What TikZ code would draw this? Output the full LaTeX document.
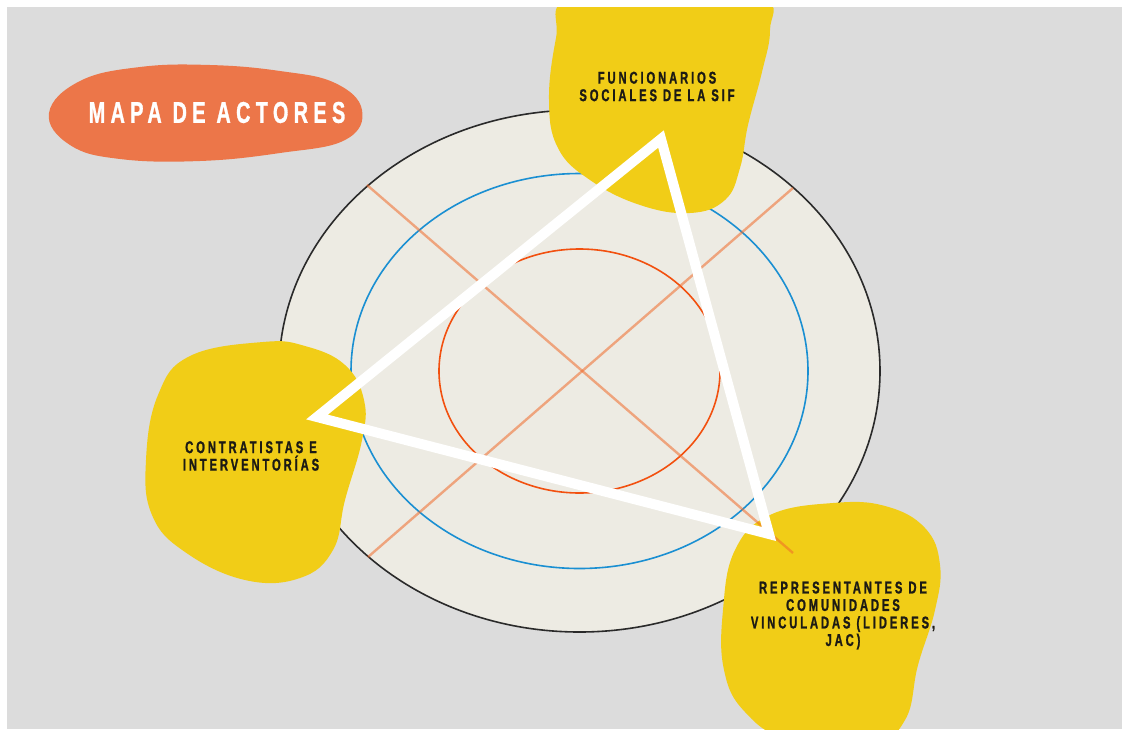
\documentclass[tikz,border=0pt]{standalone}
\usepackage{fontspec}
\newfontfamily\labelfont{Liberation Sans}[FakeStretch=0.66,LetterSpace=17,FakeBold=1.2]
\newfontfamily\headfont{Liberation Sans}[FakeStretch=0.66,LetterSpace=18,FakeBold=1.0]
\definecolor{bggrey}{HTML}{DCDCDC}
\definecolor{plate}{HTML}{EDEBE3}
\definecolor{rimblack}{HTML}{2A2A2A}
\definecolor{ringblue}{HTML}{1A8FD2}
\definecolor{ringred}{HTML}{F2500F}
\definecolor{crossline}{HTML}{F06A2A}
\definecolor{blobyellow}{HTML}{F1CD17}
\definecolor{titleorange}{HTML}{EC7649}
\definecolor{inkdark}{HTML}{1C1A14}
\tikzset{
  blob/.style={fill=blobyellow, draw=none},
  ring/.style={line width=1.6pt},
  crossbar/.style={draw=crossline, line width=2.4pt, opacity=0.55},
  actorlabel/.style={font=\labelfont\bfseries\fontsize{17}{17.5}\selectfont,
    text=inkdark, align=center, inner sep=0pt},
  titlelabel/.style={font=\headfont\bfseries\fontsize{30}{30}\selectfont,
    text=white, inner sep=0pt},
}
\begin{document}
\begin{tikzpicture}[x=1pt,y=-1pt]
  % canvas and grey panel
  \fill[white] (0,0) rectangle (1122,729);
  \useasboundingbox (0,0) rectangle (1122,729);
  \fill[bggrey] (7,7) rectangle (1122,729);

  % concentric plate
  \coordinate (centre) at (579.5,371);
  \fill[plate] (centre) ellipse [x radius=300.5, y radius=261];
  \draw[ring, rimblack] (centre) ellipse [x radius=300.5, y radius=261];
  \draw[ring, ringblue] (centre) ellipse [x radius=228.5, y radius=197.5];
  \draw[ring, ringred] (centre) ellipse [x radius=140.5, y radius=122];

  % yellow actor blobs
  \begin{scope}
    \clip (7,7) rectangle (1122,729);
    \fill[blob] plot[smooth cycle, tension=0.7] coordinates {
      (568,-2) (556,38) (549,100) (558,148) (590,180) (640,205)
      (690,213) (725,200) (740,168) (748,125) (762,72) (770,30)
      (762,-2) (665,-14)};
    \fill[blob] plot[smooth cycle, tension=0.7] coordinates {
      (263,342) (190,356) (158,395) (146,460) (152,515) (185,552)
      (245,580) (300,578) (333,550) (345,500) (362,440) (364,400)
      (345,365) (305,346)};
    \fill[blob] plot[smooth cycle, tension=0.7] coordinates {
      (833,503) (770,515) (735,550) (723,610) (724,670) (745,712)
      (790,740) (870,745) (905,720) (918,665) (935,610) (940,565)
      (925,528) (885,506)};
  \end{scope}

  % diagonal cross
  \coordinate (nw) at (367,185);
  \coordinate (se) at (793,553);
  \coordinate (ne) at (793,188);
  \coordinate (sw) at (368,557);
  \draw[crossbar] (nw) -- (se);
  \draw[crossbar] (ne) -- (sw);

  % white triangle linking the actors
  \coordinate (apex) at (661,139);
  \coordinate (westv) at (317,417);
  \coordinate (eastv) at (769,534);
  \draw[white, line width=10pt, line join=miter, miter limit=10]
    (apex) -- (westv) -- (eastv) -- cycle;

  % title badge
  \fill[titleorange] plot[smooth cycle, tension=0.7] coordinates {
    (49,113) (80,81) (140,67) (210,65) (280,71) (335,83)
    (362,110) (345,140) (280,153) (200,161) (120,159)
    (70,145)};
  \node[titlelabel] (title) at (217,112.5) {MAPA DE ACTORES};

  % actor labels
  \node[actorlabel] (sif) at (657,86.5) {FUNCIONARIOS\\SOCIALES DE LA SIF};
  \node[actorlabel] (contr) at (251,456) {CONTRATISTAS E\\INTERVENTORÍAS};
  \node[actorlabel] (repr) at (843,615.5)
    {REPRESENTANTES DE\\COMUNIDADES\\VINCULADAS (LIDERES,\\JAC)};
\end{tikzpicture}
\end{document}
